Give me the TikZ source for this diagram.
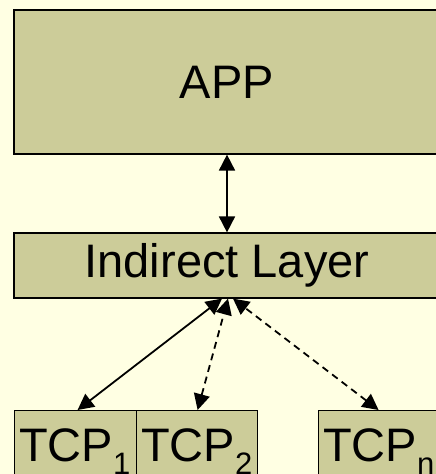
\documentclass[tikz,border=0pt]{standalone}
\usepackage{fontspec}
\setmainfont{Liberation Sans}
\usetikzlibrary{arrows.meta}
\definecolor{bgc}{RGB}{255,255,227}
\definecolor{boxc}{RGB}{204,204,153}
\newcommand\bigtxt{\fontsize{47}{56}\selectfont}
\newcommand\subtxt[1]{\raisebox{-13pt}{\fontsize{31}{36}\selectfont #1}}
\tikzset{
  layerbox/.style={draw=black, line width=1.2pt, fill=boxc, rectangle, inner sep=0pt},
  lbl/.style={inner sep=0pt, font=\bigtxt},
  conn/.style={line width=1.8pt, {Triangle[length=16pt,width=16pt]}-{Triangle[length=16pt,width=16pt]}},
  dconn/.style={conn, dash pattern=on 7pt off 5pt}
}
\begin{document}
\begin{tikzpicture}[x=1pt,y=-1pt]
\useasboundingbox (0,0) rectangle (436,474);
\clip (0,0) rectangle (436,474);
\fill[bgc] (0,0) rectangle (436,474);
\node[layerbox, minimum width=426pt, minimum height=144pt, font=\bigtxt] (app) at (227,82) {APP};
\node[layerbox, minimum width=426pt, minimum height=65pt, font=\bigtxt] (ind) at (227,265.5) {Indirect Layer};
\node[layerbox, anchor=north west, minimum width=122pt, minimum height=90pt] (t1) at (14,410) {};
\node[layerbox, anchor=north west, minimum width=121pt, minimum height=90pt] (t2) at (136,410) {};
\node[layerbox, anchor=north west, minimum width=130pt, minimum height=90pt] (tn) at (318,410) {};
\node[lbl, anchor=base west] (l1) at (19,461) {TCP\subtxt{1}};
\node[lbl, anchor=base west] (l2) at (141,461) {TCP\subtxt{2}};
\node[lbl, anchor=base west] (ln) at (323,461) {TCP\subtxt{n}};
\draw[conn] (app.south) -- (ind.north);
\draw[conn] ([xshift=2pt]t1.north) -- ([xshift=-5pt]ind.south);
\draw[dconn] ([xshift=0.5pt]t2.north) -- ([xshift=1pt]ind.south);
\draw[dconn] ([xshift=-5pt]tn.north) -- ([xshift=6pt]ind.south);
\end{tikzpicture}
\end{document}
